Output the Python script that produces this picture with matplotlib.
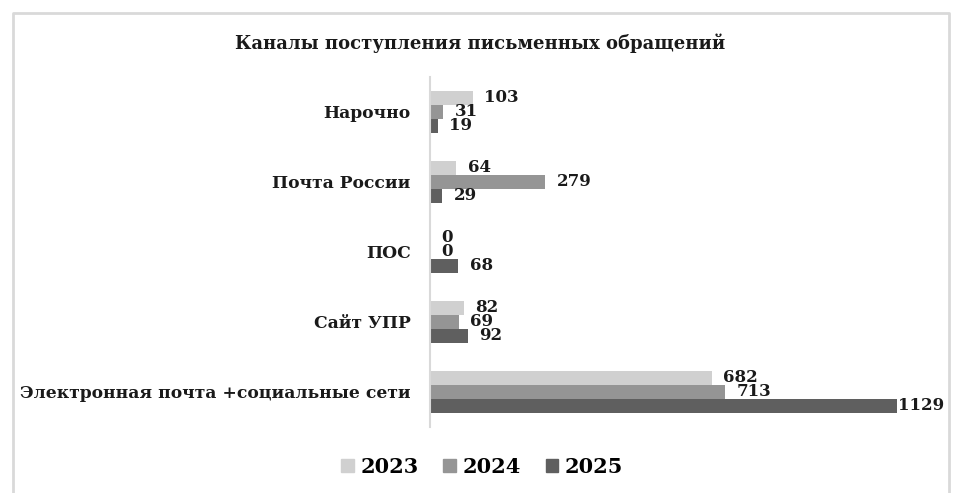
import numpy as np
import matplotlib.pyplot as plt
from matplotlib.lines import Line2D
from matplotlib.patches import Patch

# data
categories = ['Нарочно', 'Почта России', 'ПОС', 'Сайт УПР',
              'Электронная почта +социальные сети']
years = ['2023', '2024', '2025']
v2023 = [103, 64, 0, 82, 682]
v2024 = [31, 279, 0, 69, 713]
v2025 = [19, 29, 68, 92, 1129]
colors = ['#d0d0d0', '#959595', '#5f5f5f']

plt.rcParams['font.family'] = ['DejaVu Serif']
plt.rcParams['font.weight'] = 'bold'

W, H = 959, 493
fig = plt.figure(figsize=(W / 100, H / 100), dpi=100)

# outer chart frame (open at the bottom)
fx = np.array([13, 13, 949, 949]) / W
fy = 1 - np.array([H, 13, 13, H]) / H
fig.add_artist(Line2D(fx, fy, color='#d9d9d9', lw=2))

ax = fig.add_axes([430 / W, 1 - 427 / H, 496 / W, 350 / H])
xmax = 1200

n = len(categories)
ypos = np.arange(n)[::-1]
h = 0.2
series = [v2023, v2024, v2025]
for i, (vals, c) in enumerate(zip(series, colors)):
    y = ypos + (1 - i) * h
    ax.barh(y, vals, height=h, color=c, label=years[i])
    for yy, v in zip(y, vals):
        off = 28 if v + 28 + 90 < xmax else 3
        ax.text(v + off, yy, str(v), va='center', ha='left', fontsize=12,
                fontweight='bold', color='#1a1a1a', clip_on=False)

ax.set_xlim(0, xmax)
ax.set_ylim(-0.5, n - 0.5)
ax.set_yticks(ypos)
ax.set_yticklabels(categories, fontsize=12.3, fontweight='bold', color='#1a1a1a')
ax.tick_params(axis='y', length=0, pad=14)
ax.set_xticks([])
for s in ['top', 'right', 'bottom']:
    ax.spines[s].set_visible(False)
ax.spines['left'].set_color('#d9d9d9')
ax.spines['left'].set_linewidth(1.5)

fig.text(480 / W, 1 - 43 / H, 'Каналы поступления письменных обращений',
         ha='center', va='center', fontsize=13, fontweight='bold', color='#1a1a1a')

handles = [Patch(color=c) for c in colors]
fig.legend(handles, years, loc='center', bbox_to_anchor=(482 / W, 1 - 467 / H),
           ncol=3, frameon=False, handlelength=0.6, handleheight=0.6,
           handletextpad=0.3, columnspacing=1.2,
           prop={'family': 'DejaVu Serif', 'weight': 'bold', 'size': 15})

fig.savefig('out.png', dpi=100)
